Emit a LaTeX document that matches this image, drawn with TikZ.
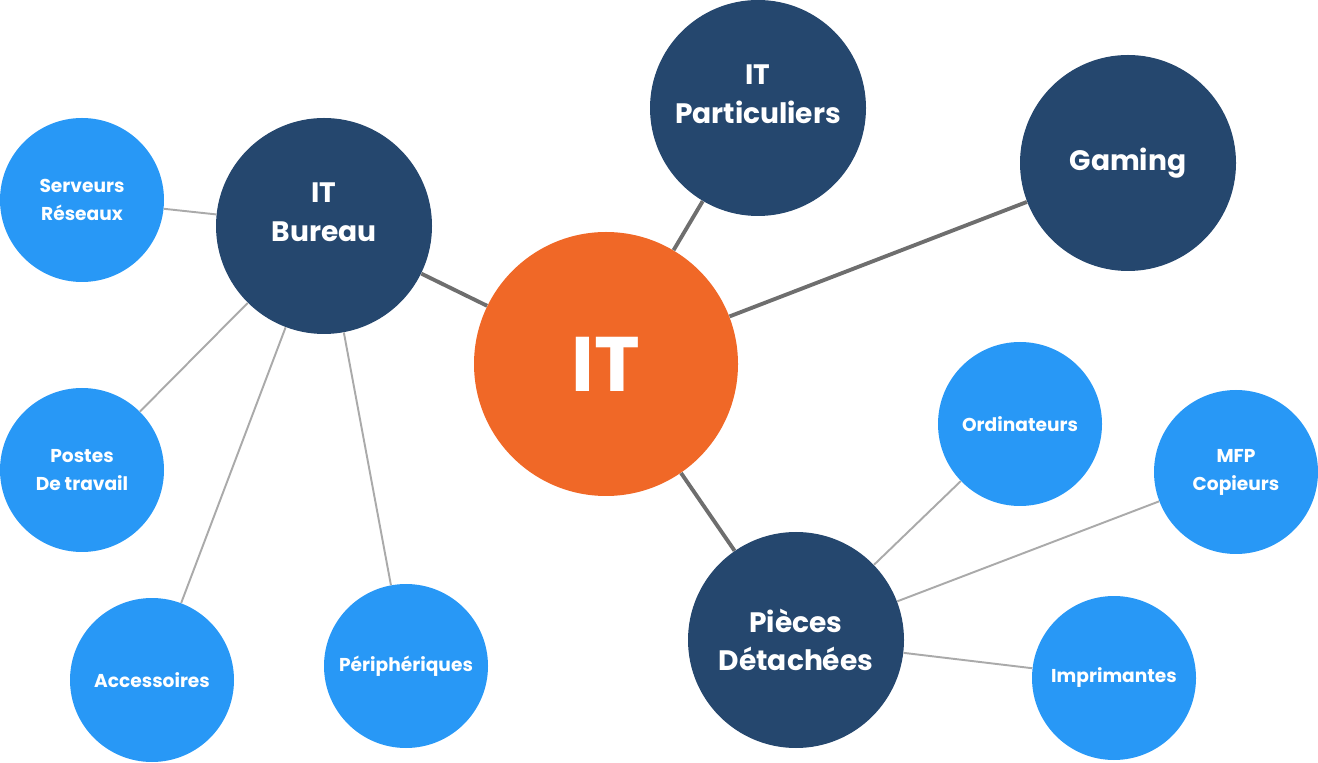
\documentclass[tikz,border=0pt]{standalone}
\usepackage{fontspec}
\setmainfont{Poppins}
\usepackage{tikz}

\definecolor{itorange}{HTML}{F06827}
\definecolor{itnavy}{HTML}{25476E}
\definecolor{itblue}{HTML}{2898F6}
\definecolor{linkdark}{HTML}{6E6E6E}
\definecolor{linklight}{HTML}{AAAAAA}

\tikzset{
    mainnode/.style={circle, fill=itorange, text=white, minimum size=5.28cm,
        inner sep=0pt, font=\fontsize{44}{48}\selectfont\bfseries},
    subnode/.style={circle, fill=itnavy, text=white, minimum size=4.32cm,
        inner sep=0pt, align=center, font=\fontsize{16}{22}\selectfont\bfseries},
    subtext/.style={text=white, align=center, inner sep=0pt,
        font=\fontsize{16}{22}\selectfont\bfseries},
    leafnode/.style={circle, fill=itblue, text=white, minimum size=3.28cm,
        inner sep=0pt, align=center, font=\fontsize{10.6}{16}\selectfont\bfseries},
    biglink/.style={draw=linkdark, line width=2.2pt},
    smalllink/.style={draw=linklight, line width=1.1pt}
}

\begin{document}
\begin{tikzpicture}
    \useasboundingbox (0,0) rectangle (26.36,15.24);
    % Centre
    \node[mainnode] (it) at (12.12,7.96) {IT};
    % Main branches
    \node[subnode, label={[subtext, yshift=0.27cm]center:{IT\\Bureau}}]
        (bureau) at (6.48,10.72) {};
    \node[subnode, label={[subtext, yshift=0.27cm]center:{IT\\Particuliers}}]
        (part) at (15.16,13.08) {};
    \node[subnode] (gaming) at (22.56,11.98) {Gaming};
    \node[subnode] (pieces) at (15.92,2.44) {Pièces\\Détachées};
    % Leaves of IT Bureau
    \node[leafnode] (serveurs) at (1.64,11.24) {Serveurs\\Réseaux};
    \node[leafnode] (postes) at (1.64,5.84) {Postes\\De travail};
    \node[leafnode] (access) at (3.04,1.64) {Accessoires};
    \node[leafnode] (periph) at (8.12,1.92) {Périphériques};
    % Leaves of Pièces Détachées
    \node[leafnode] (ordi) at (20.40,6.76) {Ordinateurs};
    \node[leafnode] (mfp) at (24.72,5.80) {MFP\\Copieurs};
    \node[leafnode] (impr) at (22.28,1.68) {Imprimantes};
    % Links
    \draw[biglink] (it) -- (bureau);
    \draw[biglink] (it) -- (part);
    \draw[biglink] (it) -- (gaming);
    \draw[biglink] (it) -- (pieces);
    \draw[smalllink] (bureau) -- (serveurs);
    \draw[smalllink] (bureau) -- (postes);
    \draw[smalllink] (bureau) -- (access);
    \draw[smalllink] (bureau) -- (periph);
    \draw[smalllink] (pieces) -- (ordi);
    \draw[smalllink] (pieces) -- (mfp);
    \draw[smalllink] (pieces) -- (impr);
\end{tikzpicture}
\end{document}
